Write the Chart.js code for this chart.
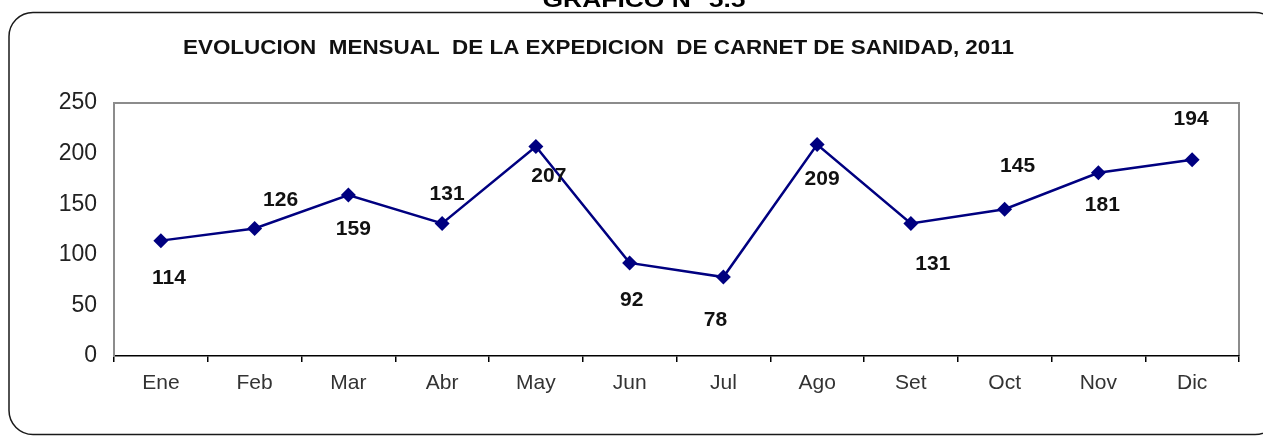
<!DOCTYPE html>
<html>
<head>
<meta charset="utf-8">
<title>Carnet de sanidad 2011</title>
<script src="https://cdn.jsdelivr.net/npm/chart.js@4/dist/chart.umd.min.js"></script>
<style>
  html, body { margin: 0; padding: 0; background: #fff; }
  #wrap { width: 1263px; height: 436px; position: relative; }
</style>
</head>
<body>
<div id="wrap"><canvas id="chart"></canvas></div>
<script>
// data
const MONTHS = ['Ene','Feb','Mar','Abr','May','Jun','Jul','Ago','Set','Oct','Nov','Dic'];
const CARNETS = [114, 126, 159, 131, 207, 92, 78, 209, 131, 145, 181, 194];
const Y_TICKS = [0, 50, 100, 150, 200, 250];

const HEADER = 'GRAFICO N° 5.5';
const TITLE = 'EVOLUCION  MENSUAL  DE LA EXPEDICION  DE CARNET DE SANIDAD, 2011';

// label placement around each marker (px), like the excel labels were dragged
const LABEL_DX = [8, 26, 5, 5, 13, 2, -8, 5, 22, 13, 4, -1];
const LABEL_DY = [38, -28, 34, -29, 30, 37, 43, 35, 41, -43, 32, -40];

const FONT = '"Liberation Sans", Arial, sans-serif';
const NAVY = '#000080';

// fits a line of text into a given width (title is stretched in the original)
function fitText(ctx, text, cx, cy, w, font){
  ctx.save();
  ctx.font = font;
  const m = ctx.measureText(text).width;
  ctx.translate(cx, cy);
  ctx.scale(w / m, 1);
  ctx.textAlign = 'center';
  ctx.textBaseline = 'middle';
  ctx.fillText(text, 0, 0);
  ctx.restore();
}

const frame = {
  id: 'frame',
  beforeDraw(chart){
    const ctx = chart.ctx;
    const a = chart.chartArea;
    ctx.save();
    ctx.fillStyle = '#fff';
    ctx.fillRect(0, 0, chart.width, chart.height);

    // rounded outer box, runs off the right / bottom edges
    ctx.strokeStyle = '#1a1a1a';
    ctx.lineWidth = 1.5;
    ctx.beginPath();
    ctx.roundRect(9, 12.5, 1270, 422, 24);
    ctx.stroke();

    // header cut at top of the page
    ctx.fillStyle = '#000';
    ctx.font = 'bold 22px ' + FONT;
    ctx.textAlign = 'center';
    ctx.textBaseline = 'alphabetic';
    ctx.save();
    ctx.beginPath(); ctx.rect(0, 0, chart.width, 12); ctx.clip();
    const hw = ctx.measureText(HEADER).width;
    ctx.translate(644, 7);
    ctx.scale(203 / hw, 1);
    ctx.fillText(HEADER, 0, 0);
    ctx.restore();

    ctx.fillStyle = '#111';
    fitText(ctx, TITLE, 598.5, 48, 831, 'bold 20px ' + FONT);

    // plot box, gray top and right
    ctx.strokeStyle = '#8c8c8c';
    ctx.lineWidth = 2;
    ctx.beginPath();
    ctx.moveTo(a.left, a.top);
    ctx.lineTo(a.right, a.top);
    ctx.lineTo(a.right, a.bottom);
    ctx.stroke();
    ctx.restore();
  },
  afterDatasetsDraw(chart){
    const ctx = chart.ctx;
    const meta = chart.getDatasetMeta(0);
    ctx.save();
    ctx.fillStyle = '#111';
    ctx.font = 'bold 21px ' + FONT;
    ctx.textAlign = 'center';
    ctx.textBaseline = 'middle';
    meta.data.forEach((pt, i) => {
      ctx.fillText(String(CARNETS[i]), pt.x + LABEL_DX[i], pt.y + LABEL_DY[i]);
    });
    ctx.restore();
  }
};

new Chart(document.getElementById('chart'), {
  type: 'line',
  data: {
    labels: MONTHS,
    datasets: [{
      data: CARNETS,
      borderColor: NAVY,
      backgroundColor: NAVY,
      borderWidth: 2.5,
      tension: 0,
      pointStyle: 'rectRot',
      pointRadius: 7.5,
      pointHoverRadius: 7.5,
      pointBorderWidth: 0
    }]
  },
  options: {
    responsive: true,
    maintainAspectRatio: false,
    animation: false,
    layout: { padding: { left: 0, top: 103, right: 24, bottom: 0 } },
    plugins: { legend: { display: false }, title: { display: false }, tooltip: { enabled: false } },
    scales: {
      x: {
        offset: true,
        grid: { display: true, offset: true, drawOnChartArea: false, drawTicks: true, tickLength: 6, color: '#000', lineWidth: 1.5 },
        border: { display: true, color: '#000', width: 1.5 },
        ticks: { color: '#333', font: { family: FONT, size: 21 }, padding: 9, maxRotation: 0 },
        afterFit(axis){ axis.height = 80; }
      },
      y: {
        min: 0,
        max: 250,
        afterBuildTicks(axis){ axis.ticks = Y_TICKS.map(v => ({ value: v })); },
        grid: { display: false, drawTicks: false },
        border: { display: true, color: '#8c8c8c', width: 2 },
        ticks: { color: '#222', font: { family: FONT, size: 23 }, padding: 17 },
        afterFit(axis){ axis.width = 114; }
      }
    }
  },
  plugins: [frame]
});
</script>
</body>
</html>
